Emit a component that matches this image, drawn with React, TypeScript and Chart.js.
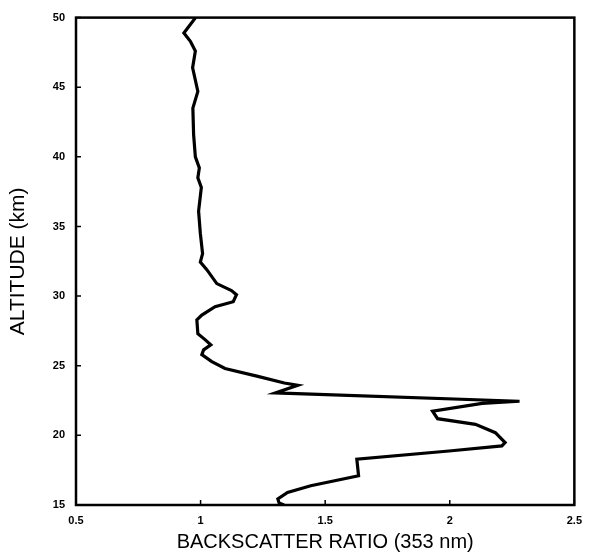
import React, { useEffect, useRef } from "react";
import { Chart, registerables } from "chart.js";

Chart.register(...registerables);

const altitudeKm: number[] = [
  50.0, 48.9, 48.3, 47.6, 46.4, 44.7, 43.5, 41.6, 40.0, 39.2, 38.5, 37.8, 36.1, 34.5,
  33.05, 32.45, 31.9, 30.9, 30.4, 30.1, 29.6, 29.24, 28.64, 28.3, 27.3, 26.86, 26.5,
  26.14, 25.8, 25.3, 24.8, 24.24, 23.76, 23.6, 23.05, 22.45, 22.3, 21.74, 21.2, 20.79,
  20.19, 19.48, 19.24, 18.88, 18.29, 17.1, 16.38, 15.9, 15.43, 15.15, 15.0,
];
const backscatterRatio: number[] = [
  0.98, 0.933, 0.959, 0.979, 0.968, 0.989, 0.969, 0.972, 0.979, 0.995, 0.989, 1.003, 0.992, 0.999,
  1.008, 0.999, 1.025, 1.065, 1.124, 1.144, 1.131, 1.058, 1.005, 0.985, 0.989, 1.019, 1.041,
  1.012, 1.005, 1.045, 1.098, 1.23, 1.336, 1.39, 1.30, 2.28, 2.13, 1.931, 1.951, 2.103,
  2.183, 2.222, 2.209, 1.997, 1.627, 1.634, 1.442, 1.349, 1.31, 1.315, 1.335,
];
const xTicks: number[] = [0.5, 1, 1.5, 2, 2.5];
const yTicks: number[] = [15, 20, 25, 30, 35, 40, 45, 50];
const xTitle = "BACKSCATTER RATIO (353 nm)";
const yTitle = "ALTITUDE (km)";

const frameAndTicks = {
  id: "frameAndTicks",
  afterDraw(chart: any) {
    const { ctx, chartArea } = chart;
    const xs = chart.scales.x;
    const ys = chart.scales.y;
    ctx.save();
    ctx.strokeStyle = "#000";
    ctx.lineWidth = 2.5;
    ctx.strokeRect(chartArea.left, chartArea.top, chartArea.right - chartArea.left, chartArea.bottom - chartArea.top);
    ctx.lineWidth = 1.5;
    ctx.beginPath();
    for (const v of xTicks) {
      const px = xs.getPixelForValue(v);
      ctx.moveTo(px, chartArea.bottom);
      ctx.lineTo(px, chartArea.bottom - 5);
    }
    for (const v of yTicks) {
      const py = ys.getPixelForValue(v);
      ctx.moveTo(chartArea.left, py);
      ctx.lineTo(chartArea.left + 5, py);
    }
    ctx.stroke();
    ctx.restore();
  },
};

export default function App() {
  const ref = useRef<HTMLCanvasElement | null>(null);
  useEffect(() => {
    if (!ref.current) return;
    const points = altitudeKm.map((a, i) => ({ x: backscatterRatio[i], y: a }));
    const tickFont = { family: "'Liberation Sans', Arial, sans-serif", size: 11, weight: "bold" as const };
    const xTitleFont = { family: "'Liberation Sans', Arial, sans-serif", size: 20, lineHeight: 1 };
    const yTitleFont = { family: "'Liberation Sans', Arial, sans-serif", size: 21, lineHeight: 1 };
    const chart = new Chart(ref.current, {
      type: "scatter",
      data: {
        datasets: [
          {
            data: points,
            showLine: true,
            borderColor: "#000",
            borderWidth: 3.2,
            pointRadius: 0,
            tension: 0,
            fill: false,
          },
        ],
      },
      plugins: [frameAndTicks],
      options: {
        animation: false,
        responsive: false,
        maintainAspectRatio: false,
        layout: { padding: { left: 0, top: 16, right: 13, bottom: 0 } },
        plugins: { legend: { display: false }, tooltip: { enabled: false } },
        scales: {
          x: {
            type: "linear",
            min: 0.5,
            max: 2.5,
            afterBuildTicks: (s: any) => {
              s.ticks = xTicks.map((v) => ({ value: v }));
            },
            afterFit: (s: any) => {
              s.height = 47;
            },
            ticks: {
              color: "#000",
              font: tickFont,
              padding: 9,
              maxRotation: 0,
              callback: (v: any) => String(v),
            },
            grid: { display: false, drawTicks: false },
            border: { display: false },
            title: { display: true, text: xTitle, color: "#000", font: xTitleFont, padding: { top: 0, bottom: 0 } },
          },
          y: {
            type: "linear",
            min: 15,
            max: 50,
            afterBuildTicks: (s: any) => {
              s.ticks = yTicks.map((v) => ({ value: v }));
            },
            afterFit: (s: any) => {
              s.width = 76;
            },
            ticks: {
              color: "#000",
              font: tickFont,
              padding: 11,
              callback: (v: any) => String(v),
            },
            grid: { display: false, drawTicks: false },
            border: { display: false },
            title: { display: true, text: yTitle, color: "#000", font: yTitleFont, padding: { top: 8, bottom: 0 } },
          },
        },
      },
    });
    return () => chart.destroy();
  }, []);
  return (
    <div style={{ position: "absolute", left: 0, top: 0, width: 591, height: 552, background: "#fff" }}>
      <canvas ref={ref} width={591} height={552} style={{ width: 591, height: 552, display: "block" }} />
    </div>
  );
}
